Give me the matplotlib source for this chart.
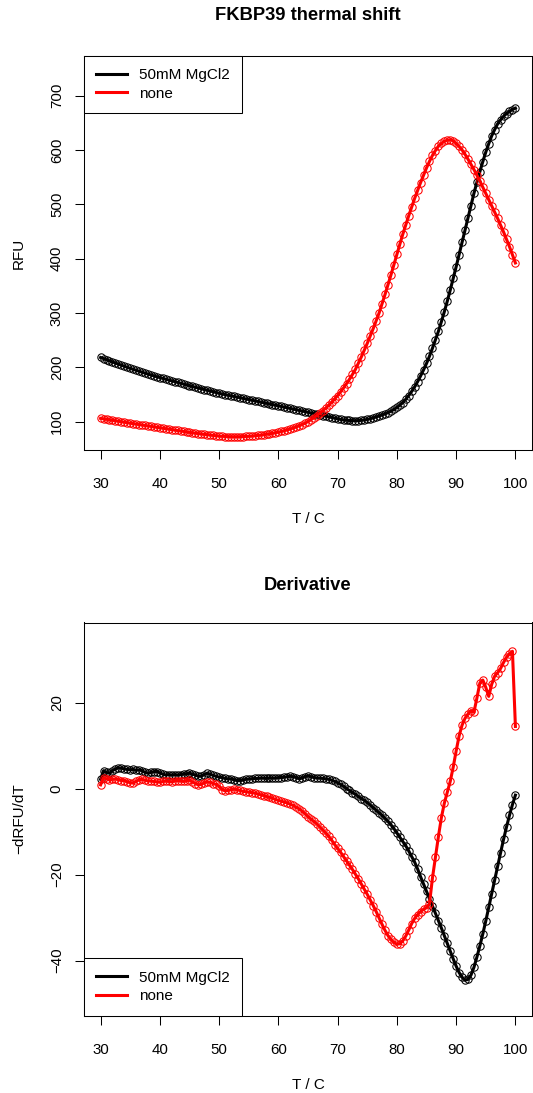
#!/usr/bin/env python3
# -*- coding: utf-8 -*-
"""
FKBP39 thermal shift: melt curves and their derivative,
with and without 50mM MgCl2. Values read off the reference figure.
"""

import numpy as np
import matplotlib
matplotlib.use("Agg")
import matplotlib.pyplot as plt
from matplotlib.lines import Line2D

plt.rcParams["font.family"] = ["Liberation Sans", "DejaVu Sans"]

# ---------------------------------------------------------------------------
# Data (temperature steps of 0.5 C, 30..100)
# ---------------------------------------------------------------------------
temp = np.arange(30.0, 100.01, 0.5)

rfu_mg = [
    218.0, 215.9, 213.8, 211.8, 209.8, 207.8, 205.8, 203.8, 201.9, 200.0,
    198.0, 196.2, 194.4, 192.6, 190.9, 189.2, 187.5, 185.8, 184.1, 182.5,
    181.0, 179.5, 178.0, 176.5, 175.0, 173.5, 172.0, 170.5, 169.0, 167.5,
    166.0, 164.6, 163.2, 161.8, 160.4, 159.0, 157.6, 156.2, 154.8, 153.4,
    152.0, 150.8, 149.6, 148.5, 147.4, 146.3, 145.2, 144.1, 143.0, 141.8,
    140.6, 139.4, 138.3, 137.2, 136.0, 134.8, 133.7, 132.5, 131.3, 130.2,
    129.0, 127.8, 126.6, 125.4, 124.2, 123.0, 121.8, 120.6, 119.4, 118.2,
    117.0, 115.8, 114.6, 113.4, 112.2, 111.0, 109.8, 108.6, 107.4, 106.2,
    105.0, 104.0, 103.1, 102.5, 102.0, 101.7, 101.6, 101.8, 102.3, 103.0,
    104.0, 105.3, 106.8, 108.4, 110.2, 112.1, 114.2, 116.5, 119.2, 122.3,
    126.0, 130.2, 135.0, 141.2, 148.0, 155.6, 164.0, 173.6, 184.0, 195.2,
    207.0, 220.5, 235.0, 250.3, 266.0, 283.5, 302.0, 321.5, 342.0, 363.5,
    385.0, 407.5, 430.0, 452.5, 475.0, 497.5, 520.0, 540.5, 560.0, 578.5,
    596.0, 611.5, 626.0, 637.5, 648.0, 655.5, 662.0, 667.0, 671.0, 674.5,
    677.0,
]

rfu_none = [
    106.0, 105.1, 104.2, 103.2, 102.3, 101.3, 100.4, 99.5, 98.6, 97.8,
    97.0, 96.2, 95.5, 94.6, 93.8, 92.9, 92.0, 91.1, 90.3, 89.5,
    88.7, 87.8, 87.0, 86.1, 85.3, 84.4, 83.6, 82.7, 81.9, 81.0,
    80.1, 79.3, 78.5, 77.9, 77.3, 76.6, 76.0, 75.3, 74.6, 73.9,
    73.3, 72.9, 72.5, 72.3, 72.1, 72.1, 72.1, 72.2, 72.4, 72.7,
    73.0, 73.4, 73.9, 74.5, 75.1, 75.8, 76.6, 77.5, 78.4, 79.4,
    80.5, 81.8, 83.2, 84.7, 86.3, 88.1, 90.0, 92.2, 94.5, 97.1,
    100.0, 103.4, 107.0, 111.0, 115.3, 120.0, 124.8, 130.1, 135.6, 141.6,
    148.0, 154.8, 162.0, 169.8, 178.0, 186.8, 196.0, 207.3, 219.0, 231.3,
    244.0, 257.3, 271.0, 285.3, 300.0, 316.8, 334.0, 352.0, 370.0, 389.0,
    408.0, 426.5, 445.0, 462.0, 479.0, 495.0, 511.0, 525.5, 540.0, 553.5,
    567.0, 579.0, 590.0, 599.0, 607.0, 612.0, 616.0, 618.0, 619.0, 617.0,
    612.0, 606.5, 600.0, 592.0, 583.0, 573.5, 564.0, 553.5, 543.0, 531.5,
    520.0, 508.5, 497.0, 485.5, 474.0, 461.5, 449.0, 435.5, 422.0, 407.0,
    392.0,
]

deriv_mg = [
    2.2, 4.2, 3.8, 3.6, 4.2, 4.6, 4.9, 4.8, 4.6, 4.5,
    4.4, 4.5, 4.3, 4.4, 4.2, 3.8, 3.6, 3.8, 4.0, 4.0,
    3.7, 3.4, 3.2, 3.3, 3.2, 3.3, 3.2, 3.3, 3.4, 3.5,
    3.6, 3.4, 3.2, 2.9, 2.9, 3.3, 3.6, 3.4, 3.1, 2.9,
    2.7, 2.6, 2.4, 2.3, 2.3, 2.1, 1.9, 1.9, 2.0, 2.2,
    2.3, 2.3, 2.4, 2.4, 2.5, 2.5, 2.4, 2.5, 2.5, 2.5,
    2.6, 2.6, 2.7, 2.8, 2.9, 2.8, 2.6, 2.3, 2.5, 2.8,
    3.0, 2.8, 2.6, 2.5, 2.5, 2.4, 2.3, 2.2, 2.0, 1.7,
    1.4, 1.0, 0.6, 0.0, -0.4, -0.9, -1.3, -1.8, -2.3, -2.7,
    -3.2, -3.8, -4.4, -5.0, -5.6, -6.2, -6.9, -7.6, -8.4, -9.3,
    -10.3, -11.3, -12.3, -13.3, -14.5, -15.8, -17.1, -18.7, -20.5, -22.2,
    -23.9, -25.6, -27.3, -29.0, -30.7, -32.4, -34.2, -36.0, -37.8, -39.6,
    -41.3, -42.8, -43.9, -44.6, -44.4, -43.4, -41.6, -39.2, -36.6, -33.8,
    -30.8, -27.6, -24.4, -21.2, -18.0, -14.9, -11.8, -8.9, -6.2, -3.7,
    -1.5,
]

deriv_none = [
    0.9, 2.6, 2.3, 2.1, 2.2, 2.3, 2.1, 1.9, 1.9, 1.6,
    1.4, 1.3, 1.7, 2.1, 2.2, 2.0, 1.8, 1.8, 1.7, 1.6,
    1.5, 1.7, 1.8, 1.7, 1.6, 1.8, 1.9, 1.8, 1.7, 1.9,
    2.0, 1.6, 1.2, 0.9, 1.0, 1.4, 1.6, 1.5, 1.2, 1.0,
    0.6, -0.2, -0.5, -0.4, -0.2, -0.1, -0.2, -0.4, -0.6, -0.7,
    -0.8, -0.9, -1.0, -1.2, -1.4, -1.6, -1.8, -2.0, -2.2, -2.5,
    -2.7, -2.9, -3.1, -3.3, -3.6, -3.9, -4.3, -4.7, -5.2, -5.8,
    -6.5, -7.1, -7.6, -8.2, -8.9, -9.6, -10.3, -11.1, -12.0, -13.0,
    -13.9, -14.8, -15.8, -16.8, -17.8, -18.8, -19.9, -21.0, -22.2, -23.4,
    -24.6, -25.9, -27.2, -28.6, -30.1, -31.6, -33.0, -34.2, -35.1, -35.8,
    -36.2, -36.1, -35.4, -34.3, -32.9, -31.4, -30.2, -29.3, -28.6, -28.1,
    -27.7, -26.8, -20.8, -16.0, -11.2, -6.8, -3.4, -0.8, 1.7, 5.0,
    8.8, 12.3, 14.8, 16.4, 17.4, 18.2, 17.8, 21.1, 24.6, 25.3,
    23.6, 21.5, 24.3, 26.2, 27.0, 28.0, 29.4, 30.6, 31.4, 32.0,
    14.5,
]

labels = ["50mM MgCl2", "none"]
colors = ["black", "red"]

# ---------------------------------------------------------------------------
# Figure: two stacked panels, R base-graphics look
# ---------------------------------------------------------------------------
W, H = 533, 1093
fig = plt.figure(figsize=(W / 100, H / 100), dpi=100)


def px_axes(left, top, right, bottom):
    return fig.add_axes([left / W, 1 - bottom / H, (right - left) / W, (bottom - top) / H])


ax1 = px_axes(84, 56, 532, 449.5)
ax2 = px_axes(84, 622.5, 532, 1015.5)

for ax, series in ((ax1, (rfu_mg, rfu_none)), (ax2, (deriv_mg, deriv_none))):
    for y, c in zip(series, colors):
        ax.plot(temp, y, color=c, lw=2.2, marker="o", ms=5.3,
                mfc="none", mec=c, mew=0.75)
    ax.set_xlim(27.2, 102.8)
    ax.set_xticks(np.arange(30, 101, 10))
    ax.tick_params(direction="out", length=6.5, width=0.75, labelsize=10.8)
    ax.tick_params(axis="x", pad=13.5)
    ax.tick_params(axis="y", pad=8, labelrotation=90)
    for sp in ax.spines.values():
        sp.set_linewidth(0.75)

ax1.set_ylim(48.6, 773)
ax1.set_yticks(np.arange(100, 701, 100))
ax2.set_ylim(-52.8, 38.7)
ax2.set_yticks([-40, -20, 0, 20])
for ax in (ax1, ax2):
    for lab in ax.get_yticklabels():
        lab.set_va("center")

handles = [Line2D([], [], color=c, lw=2.2) for c in colors]
for ax, loc in ((ax1, "upper left"), (ax2, "lower left")):
    leg = ax.legend(handles, labels, loc=loc, borderaxespad=0, fontsize=11,
                    frameon=True, fancybox=False, framealpha=1,
                    edgecolor="black", handlelength=2.0, handletextpad=0.8,
                    borderpad=0.8, labelspacing=0.3)
    leg.get_frame().set_linewidth(0.75)

# titles and axis labels
cx = (84 + 532) / 2 / W
fig.text(cx, 1 - 16 / H, "FKBP39 thermal shift", ha="center", va="center",
         fontsize=13.2, fontweight="bold")
fig.text(cx, 1 - 585 / H, "Derivative", ha="center", va="center",
         fontsize=13.2, fontweight="bold")
fig.text(cx, 1 - 519 / H, "T / C", ha="center", va="center", fontsize=11)
fig.text(cx, 1 - 1085 / H, "T / C", ha="center", va="center", fontsize=11)
fig.text(19 / W, 1 - 253 / H, "RFU", ha="center", va="center",
         rotation=90, fontsize=11)
fig.text(19 / W, 1 - 819 / H, "\u2212dRFU/dT", ha="center", va="center",
         rotation=90, fontsize=11)

fig.savefig("out.png", dpi=100)
